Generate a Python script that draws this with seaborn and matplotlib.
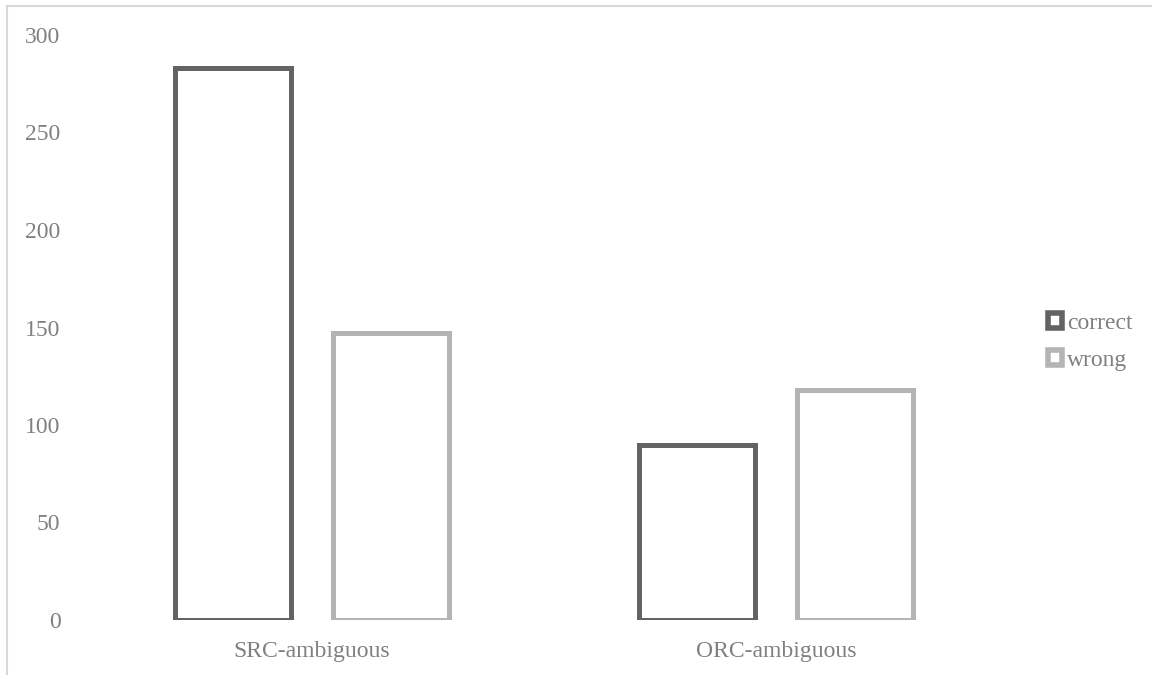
# Bar chart: correct / wrong counts for SRC and ORC ambiguous items

import matplotlib
matplotlib.use('Agg')
import matplotlib.pyplot as plt
import matplotlib.patches as mpatches
import seaborn as sns
import pandas as pd

# Data
groups = ['SRC-ambiguous', 'ORC-ambiguous']
answers = ['correct', 'wrong']
correct_counts = [283, 90]
wrong_counts = [147, 118]
y_ticks = [0, 50, 100, 150, 200, 250, 300]

DARK = '#636363'
LIGHT = '#b4b4b4'
TEXT = '#808080'

df = pd.DataFrame({
    'group': groups * 2,
    'answer': ['correct'] * len(groups) + ['wrong'] * len(groups),
    'count': correct_counts + wrong_counts,
})

sns.set_theme(style='white')
plt.rcParams['font.family'] = ['Liberation Serif', 'DejaVu Serif']

fig = plt.figure(figsize=(11.52, 6.75), dpi=100)
ax = fig.add_axes([80 / 1152, 1 - 620 / 675, (1008 - 80) / 1152, 585 / 675])

sns.barplot(
    data=df, x='group', y='count', hue='answer', order=groups,
    hue_order=answers, palette=[DARK, LIGHT], fill=False,
    linewidth=3.6, width=0.68, gap=0.26, ax=ax, errorbar=None,
    legend=False,
)

ax.set_xlim(-0.5, 1.5)
ax.set_ylim(0, 300)
ax.set_yticks(y_ticks)
ax.set_xlabel('')
ax.set_ylabel('')
for s in ax.spines.values():
    s.set_visible(False)
ax.tick_params(axis='both', length=0, labelsize=17, colors=TEXT)
ax.tick_params(axis='y', pad=14)
ax.tick_params(axis='x', pad=15)

# legend with small square handles
handles = [mpatches.Patch(facecolor='white', edgecolor=c, linewidth=4)
           for c in (DARK, LIGHT)]
leg = fig.legend(
    handles, answers, loc='center left',
    bbox_to_anchor=(1048 / 1152, 1 - 342 / 675), bbox_transform=fig.transFigure,
    frameon=False, fontsize=17, handlelength=0.6, handleheight=0.6,
    handletextpad=0.2, labelspacing=0.7, borderpad=0, borderaxespad=0,
)
for t in leg.get_texts():
    t.set_color(TEXT)

# light outer border, partly cut off at right and bottom like the original
fig.patches.append(mpatches.Rectangle(
    (7 / 1152, -0.1), 1.2, 1 - 6 / 675 + 0.1, transform=fig.transFigure,
    fill=False, edgecolor='#d9d9d9', linewidth=1.5, zorder=0))

fig.savefig('out.png', dpi=100, facecolor='white')
plt.close(fig)
